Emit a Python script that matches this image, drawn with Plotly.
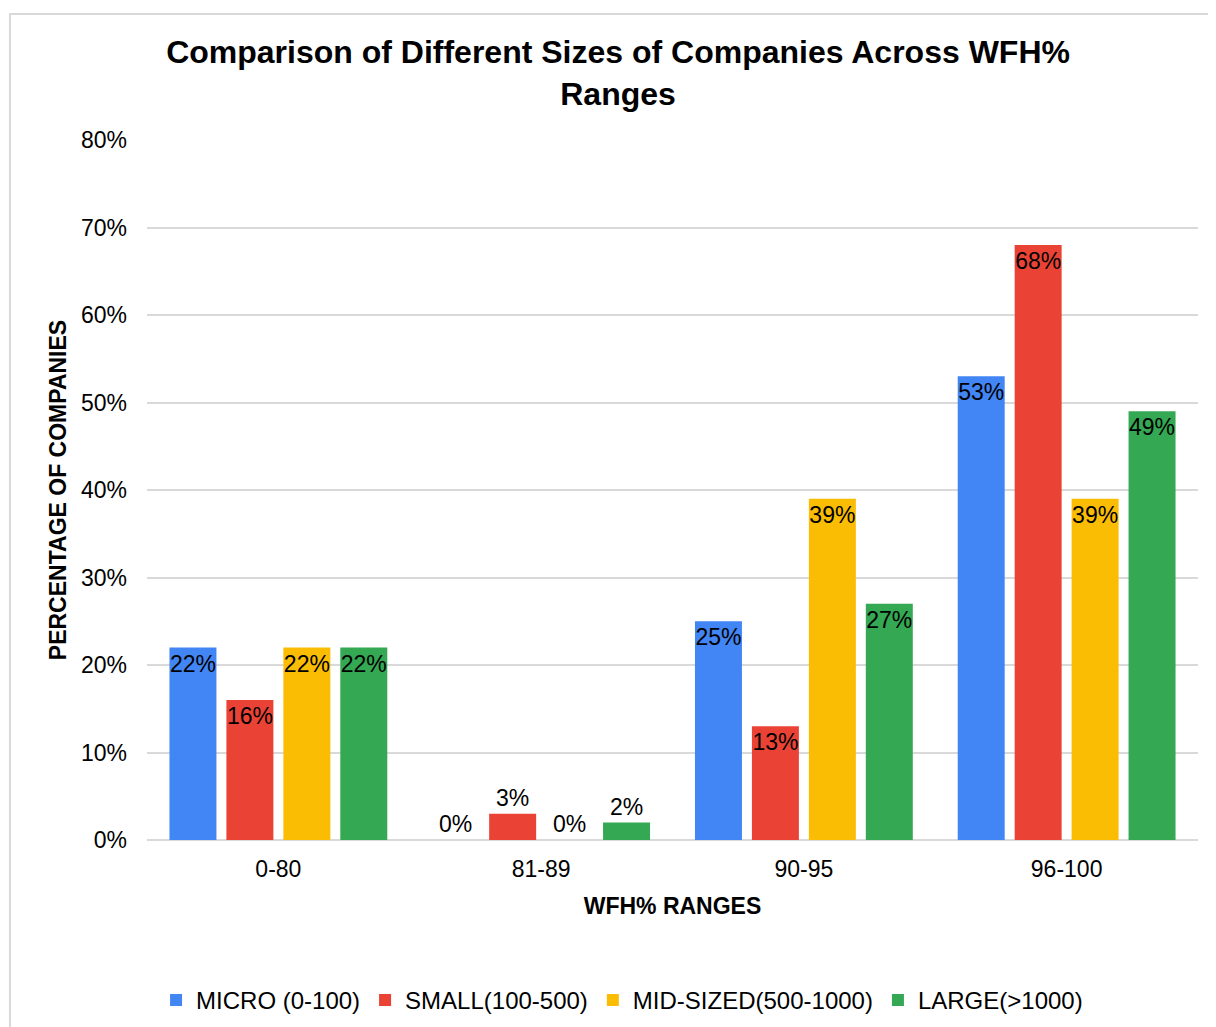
import plotly.graph_objects as go

# WFH% ranges on the x axis
ranges = ["0-80", "81-89", "90-95", "96-100"]

# share of companies (%) per size class
micro = [22, 0, 25, 53]
small = [16, 3, 13, 68]
mid_sized = [22, 0, 39, 39]
large = [22, 2, 27, 49]

series_names = ["MICRO (0-100)", "SMALL(100-500)", "MID-SIZED(500-1000)", "LARGE(>1000)"]
series_colors = ["#4285F4", "#EA4335", "#FBBC04", "#34A853"]

font_family = "Liberation Sans, Arial, sans-serif"

fig = go.Figure()
for name, vals, color in zip(series_names, [micro, small, mid_sized, large], series_colors):
    fig.add_trace(go.Bar(
        x=ranges, y=vals, name=name,
        marker=dict(color=color, line=dict(width=0)),
        text=[f"{v}%" for v in vals],
        # tiny bars can't hold their label, put it on top instead
        textposition=["outside" if v < 5 else "inside" for v in vals],
        insidetextanchor="end",
        constraintext="none",
        textangle=0,
        textfont=dict(family=font_family, size=23, color="black"),
        hoverinfo="x+y+name",
    ))

fig.update_layout(
    width=1208, height=1019,
    margin=dict(l=139, r=18, t=132, b=187, autoexpand=False),
    paper_bgcolor="white",
    plot_bgcolor="white",
    font=dict(family=font_family, size=23, color="black"),
    barmode="group",
    bargap=0.133,
    bargroupgap=0.175,
    title=dict(
        text="<b>Comparison of Different Sizes of Companies Across WFH%<br>Ranges</b>",
        x=0.505, xanchor="center", y=0.946, yanchor="top",
        font=dict(size=32, family=font_family),
    ),
    xaxis=dict(
        title=dict(text="<b>WFH% RANGES</b>", font=dict(size=23), standoff=16),
        showline=False, ticks="", showgrid=False,
        tickfont=dict(size=23), ticklabelstandoff=13,
    ),
    yaxis=dict(
        title=dict(text="<b>PERCENTAGE OF COMPANIES</b>", font=dict(size=23), standoff=7),
        range=[0, 80], dtick=10, ticksuffix="%",
        showgrid=True, gridcolor="#d9d9d9", gridwidth=2,
        zeroline=True, zerolinecolor="#d9d9d9", zerolinewidth=2,
        showline=False, ticks="",
        tickfont=dict(size=23), ticklabelstandoff=19,
    ),
    legend=dict(
        orientation="h", x=0.452, xanchor="center", y=-0.229, yanchor="middle",
        font=dict(size=24), itemwidth=30, traceorder="normal",
    ),
    shapes=[dict(
        type="rect", xref="paper", yref="paper",
        x0=-0.1304, x1=1.03, y0=-0.28, y1=1.18,
        line=dict(color="#d9d9d9", width=2), fillcolor="rgba(0,0,0,0)", layer="below",
    )],
)

fig.write_html("out.html")
